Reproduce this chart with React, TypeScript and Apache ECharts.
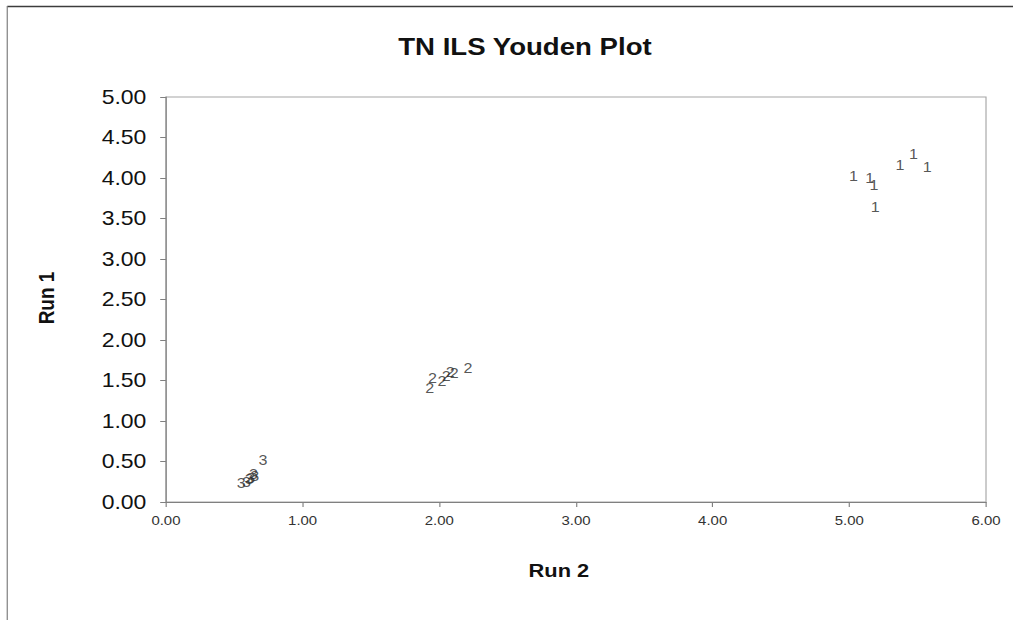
import React, { useEffect, useRef } from "react";
import * as echarts from "echarts";

const titleText = "TN ILS Youden Plot";
const xName = "Run 2";
const yName = "Run 1";

// [Run 2, Run 1]
const lab1: [number, number][] = [
  [5.03, 4.02],
  [5.15, 4.0],
  [5.18, 3.91],
  [5.19, 3.64],
  [5.37, 4.16],
  [5.47, 4.3],
  [5.57, 4.14],
];
const lab2: [number, number][] = [
  [1.93, 1.41],
  [1.95, 1.53],
  [2.02, 1.49],
  [2.05, 1.56],
  [2.08, 1.61],
  [2.11, 1.59],
  [2.21, 1.66],
];
const lab3: [number, number][] = [
  [0.55, 0.23],
  [0.59, 0.25],
  [0.61, 0.28],
  [0.62, 0.3],
  [0.64, 0.35],
  [0.65, 0.32],
  [0.71, 0.52],
];
const groups = [
  { name: "1", data: lab1 },
  { name: "2", data: lab2 },
  { name: "3", data: lab3 },
];

const FONT = "'Liberation Sans', Arial, sans-serif";
const STRETCH = 1.15;
const W = 881;
const H = 620;

export default function App() {
  const ref = useRef<HTMLDivElement>(null);
  useEffect(() => {
    if (!ref.current) return;
    const chart = echarts.init(ref.current, null, { renderer: "svg" });
    chart.setOption({
      animation: false,
      backgroundColor: "#ffffff",
      grid: {
        left: 144.3,
        right: 23.6,
        top: 97,
        bottom: 118,
        show: true,
        borderColor: "#a6a6a6",
        borderWidth: 1,
        backgroundColor: "transparent",
      },
      xAxis: {
        type: "value",
        min: 0,
        max: 6,
        interval: 1,
        splitLine: { show: false },
        axisLine: { show: true, onZero: false, lineStyle: { color: "#808080", width: 1 } },
        axisTick: { show: true, length: 5, lineStyle: { color: "#808080" } },
        axisLabel: {
          formatter: (v: number) => v.toFixed(2),
          fontSize: 13,
          color: "#333333",
          fontFamily: FONT,
          margin: 12,
        },
      },
      yAxis: {
        type: "value",
        min: 0,
        max: 5,
        interval: 0.5,
        splitLine: { show: false },
        axisLine: { show: true, onZero: false, lineStyle: { color: "#808080", width: 1 } },
        axisTick: { show: true, length: 5, lineStyle: { color: "#808080" } },
        axisLabel: {
          formatter: (v: number) => v.toFixed(2),
          fontSize: 20,
          color: "#111111",
          fontFamily: FONT,
          margin: 17,
        },
      },
      graphic: [
        {
          type: "line",
          shape: { x1: 6.3, y1: 6.5, x2: W + 5, y2: 6.5 },
          style: { stroke: "#3c3c3c", lineWidth: 1.5 },
        },
        {
          type: "line",
          shape: { x1: 6.3, y1: 6, x2: 6.3, y2: H + 5 },
          style: { stroke: "#7a7a7a", lineWidth: 1 },
        },
        {
          type: "text",
          x: 456.5,
          y: 47,
          style: {
            text: titleText,
            fontSize: 24,
            fontWeight: "bold",
            fontFamily: FONT,
            fill: "#111111",
            align: "center",
            verticalAlign: "middle",
          },
        },
        {
          type: "text",
          x: 486,
          y: 570,
          style: {
            text: xName,
            fontSize: 19,
            fontWeight: "bold",
            fontFamily: FONT,
            fill: "#111111",
            align: "center",
            verticalAlign: "middle",
          },
        },
        {
          type: "text",
          x: 40.4,
          y: 298,
          rotation: Math.PI / 2,
          style: {
            text: yName,
            fontSize: 19,
            fontWeight: "bold",
            fontFamily: FONT,
            fill: "#111111",
            align: "center",
            verticalAlign: "middle",
          },
        },
      ],
      series: groups.map((g) => ({
        type: "scatter",
        name: g.name,
        data: g.data,
        symbol: "circle",
        symbolSize: 1,
        itemStyle: { color: "rgba(0,0,0,0)" },
        emphasis: { disabled: true },
        label: {
          show: true,
          position: "inside",
          formatter: g.name,
          fontSize: 14,
          color: "#2a2a2a",
          fontFamily: FONT,
        },
      })),
    });
    return () => chart.dispose();
  }, []);

  return (
    <div
      style={{
        position: "fixed",
        left: 0,
        top: 0,
        width: 1013,
        height: H,
        overflow: "hidden",
        background: "#ffffff",
      }}
    >
      <div
        ref={ref}
        style={{
          width: W,
          height: H,
          transform: `scale(${STRETCH}, 1)`,
          transformOrigin: "0 0",
        }}
      />
    </div>
  );
}
